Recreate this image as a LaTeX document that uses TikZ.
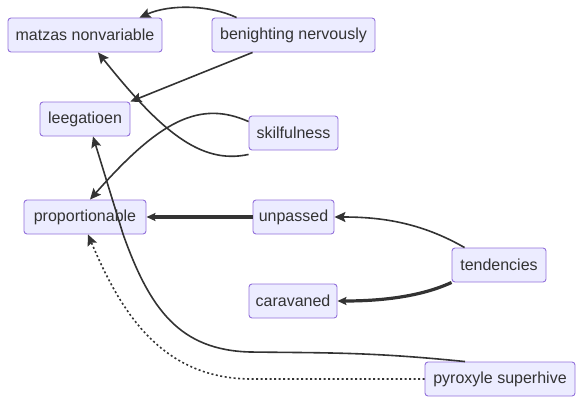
\documentclass[tikz,border=0pt]{standalone}
\usepackage{fontspec}
\setmainfont{Liberation Sans}
\usetikzlibrary{arrows.meta}
\definecolor{nodefill}{HTML}{ECECFF}
\definecolor{nodeline}{HTML}{9370DB}
\definecolor{edgecol}{HTML}{333333}
\tikzset{
  box/.style={draw=nodeline, fill=nodefill, rounded corners=3pt, line width=0.9pt,
    inner sep=0pt, minimum height=34pt, text=edgecol,
    font=\fontsize{16}{19}\selectfont},
  edge/.style={draw=edgecol, line width=1.6pt, -{Stealth[length=11pt,width=10pt,inset=2pt]}},
  thickedge/.style={draw=edgecol, line width=3.2pt, -{Stealth[length=9pt,width=8pt,inset=1.5pt]}},
  dotedge/.style={draw=edgecol, line width=1.6pt, dash pattern=on 2pt off 2.5pt, -{Stealth[length=11pt,width=10pt,inset=2pt]}},
}
\begin{document}
\begin{tikzpicture}[x=1pt,y=-1pt]
\useasboundingbox (0,0) rectangle (583,404);
\node[box, minimum width=154pt] (mat) at (85,35) {matzas nonvariable};
\node[box, minimum width=163pt] (ben) at (293.5,35) {benighting nervously};
\node[box, minimum width=90pt] (lee) at (85,119) {leegatioen};
\node[box, minimum width=89pt] (ski) at (293.5,133) {skilfulness};
\node[box, minimum width=122pt] (pro) at (85,217) {proportionable};
\node[box, minimum width=81pt] (unp) at (293.5,217) {unpassed};
\node[box, minimum width=94pt] (ten) at (499,265) {tendencies};
\node[box, minimum width=88pt] (car) at (293,301) {caravaned};
\node[box, minimum width=150pt] (pyr) at (500,379) {pyroxyle superhive};

% benighting -> matzas
\draw[edge] ([xshift=25pt]ben.north west) .. controls (210,5) and (170,4) .. ([xshift=132pt]mat.north west);
% benighting -> leegatioen
\draw[edge] ([xshift=41pt]ben.south west) -- (lee.north east);
% skilfulness -> matzas
\draw[edge] ([yshift=-4pt]ski.south west) .. controls (200,165) and (160,130) .. ([xshift=13pt]mat.south);
% skilfulness -> proportionable
\draw[edge] ([yshift=-6pt]ski.north west) .. controls (200,100) and (160,120) .. ([xshift=5pt]pro.north);
% pyroxyle -> leegatioen
\draw[edge] ([xshift=-35pt]pyr.north) .. controls (370,352) and (330,353) .. (250,352)
   .. controls (180,350) and (150,310) .. (123,234) -- ([xshift=8pt]lee.south);
% unpassed -> proportionable
\draw[thickedge] (unp.west) -- (pro.east);
% tendencies -> unpassed
\draw[edge] ([xshift=13pt]ten.north west) .. controls (420,222) and (380,217) .. (unp.east);
% tendencies -> caravaned
\draw[thickedge] (ten.south west) .. controls (420,297) and (380,301) .. (car.east);
% pyroxyle -> proportionable
\draw[dotedge] (pyr.west) -- (250,379) .. controls (160,378) and (120,310) .. ([xshift=3pt]pro.south);
\end{tikzpicture}
\end{document}
